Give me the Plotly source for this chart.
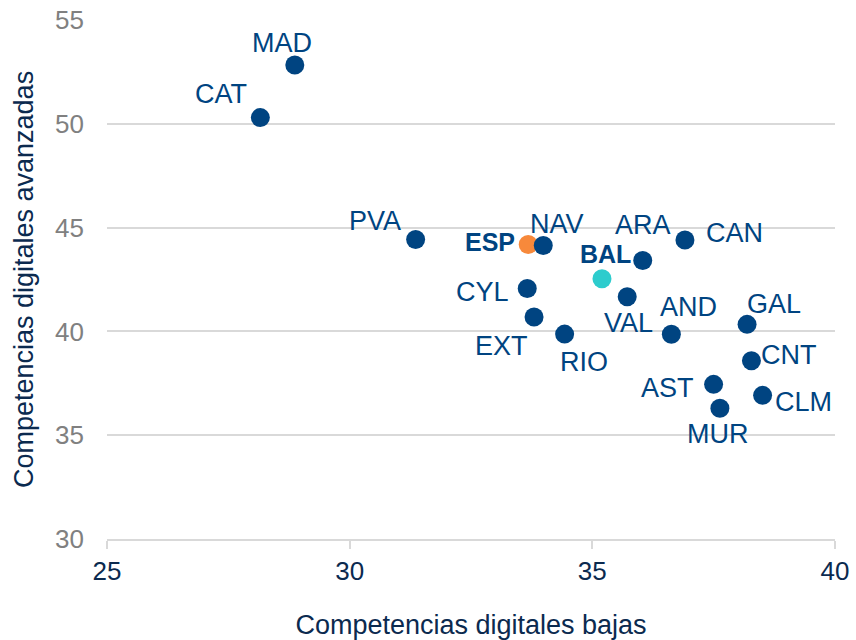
import plotly.graph_objects as go

regions = ["MAD", "CAT", "PVA", "ESP", "NAV", "ARA", "CAN", "BAL", "CYL",
           "VAL", "EXT", "RIO", "AND", "GAL", "CNT", "AST", "CLM", "MUR"]
basic_low = [28.87, 28.16, 31.36, 33.68, 33.99, 36.04, 36.91, 35.20, 33.66,
             35.72, 33.80, 34.43, 36.63, 38.19, 38.28, 37.50, 38.51, 37.63]
advanced = [52.83, 50.30, 44.43, 44.19, 44.14, 43.42, 44.40, 42.54, 42.07,
            41.67, 40.69, 39.87, 39.86, 40.34, 38.59, 37.45, 36.92, 36.30]
x_ticks = [25, 30, 35, 40]
y_ticks = [30, 35, 40, 45, 50, 55]

NAVY = "#004481"
ORANGE = "#F7893B"
AQUA = "#2DCCCD"
FONT = "Liberation Sans, Arial, sans-serif"

# label placement (pixel offsets of label centre from marker centre)
offsets = {
    "MAD": (-13, -22), "CAT": (-39, -24), "PVA": (-41, -18), "ESP": (-38, -2),
    "NAV": (14, -21), "ARA": (0, -35), "CAN": (50, -7), "BAL": (4, -25),
    "CYL": (-45, 4), "VAL": (1, 26), "EXT": (-33, 29), "RIO": (19, 28),
    "AND": (17, -27), "GAL": (27, -20), "CNT": (38, -6), "AST": (-46, 4),
    "CLM": (41, 7), "MUR": (-2, 26),
}
colors = [ORANGE if r == "ESP" else AQUA if r == "BAL" else NAVY for r in regions]

fig = go.Figure()
fig.add_trace(go.Scatter(
    x=basic_low, y=advanced, mode="markers",
    marker=dict(size=19, color=colors, line=dict(width=0)),
    hoverinfo="text", text=regions, showlegend=False, cliponaxis=False,
))

for r, xv, yv in zip(regions, basic_low, advanced):
    dx, dy = offsets[r]
    bold = r in ("ESP", "BAL")
    fig.add_annotation(
        x=xv, y=yv, text=f"<b>{r}</b>" if bold else r, showarrow=False,
        xshift=dx, yshift=-dy, xanchor="center", yanchor="middle",
        font=dict(family=FONT, size=27 if not bold else 25, color=NAVY),
    )

fig.update_layout(
    width=856, height=640,
    margin=dict(l=107, r=21, t=20, b=101),
    paper_bgcolor="white", plot_bgcolor="white",
    font=dict(family=FONT),
)
fig.update_xaxes(
    range=[25, 40.002], tickvals=x_ticks, showgrid=False, zeroline=False,
    automargin=False, ticklabeloverflow="allow",
    showline=True, linecolor="#d9d9d9", linewidth=1.5,
    ticks="outside", ticklen=8, tickcolor="#d9d9d9", tickwidth=1.5,
    tickfont=dict(family=FONT, size=26, color="#0b2a4f"),
    title=dict(text="Competencias digitales bajas",
               font=dict(family=FONT, size=27, color="#0b2a4f"), standoff=30),
)
fig.update_yaxes(
    range=[30, 55.002], tickvals=y_ticks, showgrid=True, gridcolor="#d9d9d9",
    gridwidth=1.5, zeroline=False, showline=False, ticks="",
    automargin=False, ticklabeloverflow="allow",
    tickfont=dict(family=FONT, size=26, color="#808080"),
    ticklabelstandoff=22,
    title=dict(text="Competencias digitales avanzadas",
               font=dict(family=FONT, size=27, color="#0b2a4f"), standoff=13),
)

fig.write_html(
    "out.html",
    config={"displayModeBar": False},
    post_script="document.body.style.margin='0';document.body.style.overflow='hidden';",
)
